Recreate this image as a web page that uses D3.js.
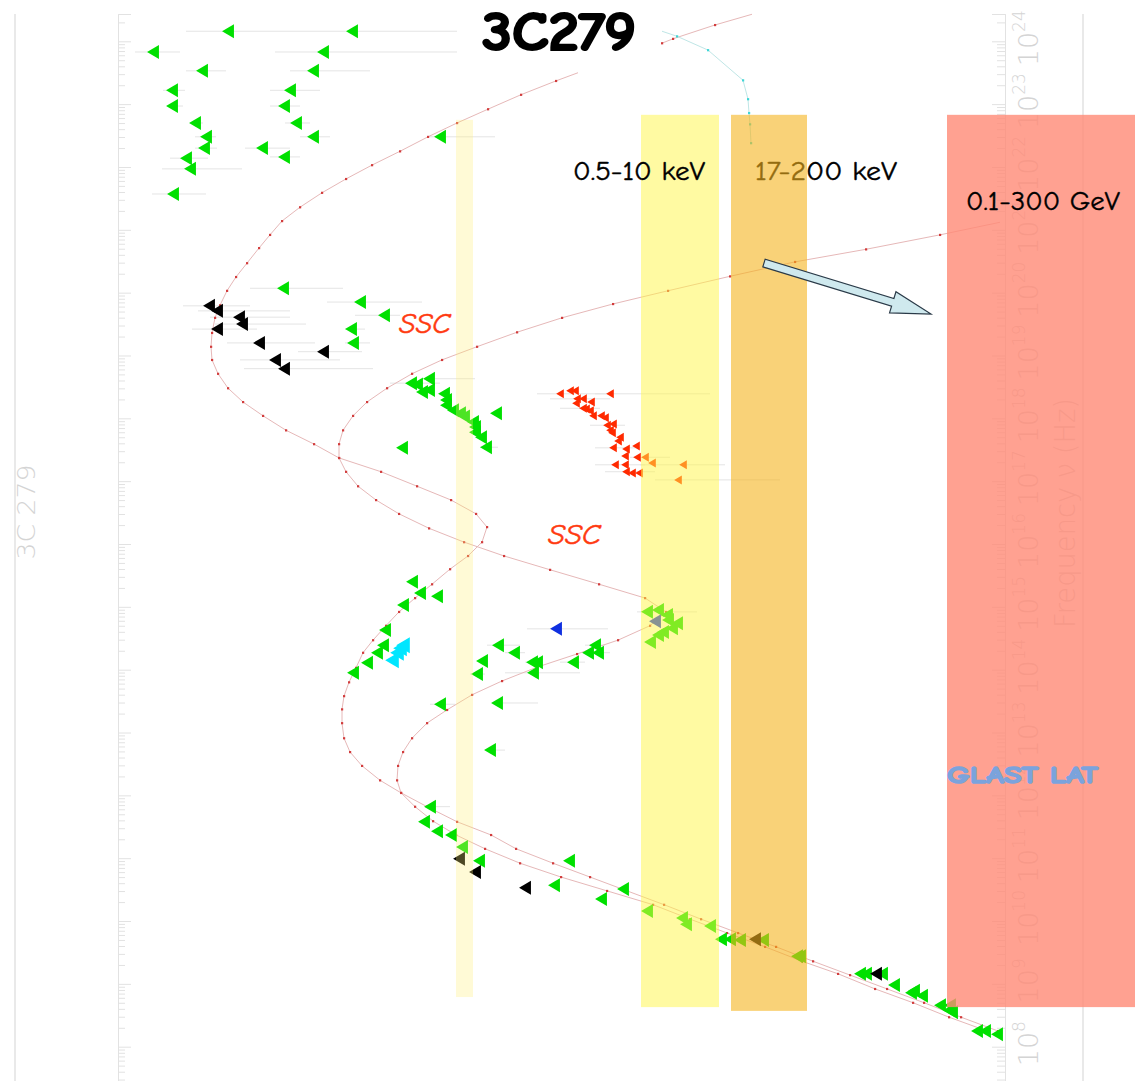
<!DOCTYPE html>
<html><head><meta charset="utf-8">
<script src="https://cdn.jsdelivr.net/npm/d3@7"></script>
<style>html,body{margin:0;padding:0;background:#fff;}svg{display:block;}</style>
</head><body>
<script>
// ---------------- DATA (log10 nu [Hz], log10 nuFnu) ----------------
const decadeExps = d3.range(8, 25);           // frequency tick labels 10^8 .. 10^24

// green markers: [logNu, logF, errLeft, errRight]
const greenPts = [
 [24.16,-9.28,-8.86,-10.00],[24.16,-10.52,-10.00,-11.57],[23.83,-8.53,-8.35,-8.80],[23.83,-10.23,-9.75,-11.57],
 [23.53,-9.02,-8.86,-9.26],[23.53,-10.13,-9.90,-10.70],[23.22,-8.72,-8.63,-8.85],[23.22,-9.90,-9.70,-10.20],
 [22.97,-8.72,-8.67,-8.83],[22.97,-9.84,-9.70,-10.00],[22.70,-8.95,-8.90,-9.03],[22.70,-9.96,-9.85,-10.10],
 [22.48,-9.06,-8.95,-9.16],[22.48,-10.13,-10.00,-10.30],[22.30,-9.04,-8.95,-9.17],[22.30,-9.62,-9.45,-9.90],
 [22.14,-8.86,-8.70,-9.08],[22.16,-9.84,-9.70,-10.00],[21.97,-8.90,-8.62,-9.42],[21.57,-8.73,-8.52,-9.06],
 [22.48,-11.40,-11.30,-11.95],
 [20.07,-9.83,-9.50,-10.43],[19.85,-10.60,-10.27,-11.22],[19.64,-10.84,-10.55,-11.00],[19.42,-10.51,-10.45,-10.65],[19.20,-10.53,-10.45,-10.70],
 [18.56,-11.11,-10.90,-11.40],[18.54,-11.17],[18.63,-11.29,-11.30,-11.75],[18.42,-11.22],[18.45,-11.29],[18.39,-11.44],
 [18.29,-11.46],[18.21,-11.46],[18.13,-11.53],[18.08,-11.60],[18.03,-11.64],[17.94,-11.73],[17.86,-11.75],[17.78,-11.75],
 [17.70,-11.81],[17.54,-11.86,-11.80,-11.98],[18.08,-11.96],[17.53,-11.02],
 [14.92,-13.47,-13.37,-13.97],[14.95,-13.58],[14.87,-13.67],[14.74,-13.77],[14.66,-13.72],[14.60,-13.63],[14.55,-13.58],[14.44,-13.50],[14.79,-13.68],
 [15.40,-11.12],[15.22,-11.20],[15.17,-11.37],[15.03,-11.03],[14.63,-10.85],[14.39,-10.83],[14.27,-10.77],[14.11,-10.67],[13.95,-10.53],
 [14.39,-11.98,-11.87,-12.20],[14.27,-12.14,-12.05,-12.25],[14.14,-11.82],[13.93,-11.77,-11.70,-11.85],[14.12,-12.32,-12.25,-12.40],
 [14.12,-12.37],[13.95,-12.33,-12.05,-12.80],[14.12,-12.73,-12.60,-12.85],[14.27,-12.88],[14.39,-12.95,-12.85,-13.05],
 [14.27,-12.98,-12.90,-13.10],[13.45,-11.40,-11.30,-11.55],[13.47,-11.97,-11.97,-12.38],[12.72,-11.90,-11.85,-12.05],
 [11.82,-11.30,-11.25,-11.50],[11.58,-11.24],[11.43,-11.37],[11.37,-11.51],[11.18,-11.62],[10.96,-11.79],[10.96,-12.69],
 [10.57,-12.54],[10.51,-13.23],[10.35,-13.01],[10.16,-13.47],[10.05,-13.82],[9.95,-13.86],[9.92,-14.10],[9.71,-14.21],
 [9.71,-14.30],[9.70,-14.40],[9.70,-14.63],[9.44,-14.97],[9.44,-15.00],[9.16,-15.60],[9.16,-15.66],[9.16,-15.82],
 [8.98,-15.94],[8.86,-16.11],[8.89,-16.14],[8.81,-16.22],[8.66,-16.40],[8.58,-16.49],[8.66,-16.50],[8.55,-16.52],
 [8.25,-16.77],[8.25,-16.85],[8.20,-16.97]
];
const blackPts = [
 [19.79,-9.09,-8.83,-9.50],[19.71,-9.17,-8.98,-9.90],[19.61,-9.39,-9.10,-9.90],[19.50,-9.42,-9.15,-10.06],
 [19.42,-9.17,-8.92,-9.57],[19.20,-9.59,-9.27,-10.15],[19.06,-10.23,-9.98,-10.62],[18.93,-9.75,-9.40,-10.40],
 [18.79,-9.84,-9.44,-10.73],[10.99,-11.59],[10.78,-11.75],[10.53,-12.25],[9.71,-14.55],[9.16,-15.76]
];
const redPts = [
 [18.39,-12.60,-12.37,-13.13],[18.44,-12.70],[18.44,-12.75],[18.39,-13.10,-12.95,-14.10],[18.31,-12.77,-12.50,-13.10],
 [18.31,-12.83],[18.24,-12.76],[18.26,-12.91],[18.16,-12.83,-12.60,-13.00],[18.15,-12.86],[18.12,-12.90],[18.04,-12.93],
 [18.04,-13.01],[18.01,-13.05],[17.89,-13.07,-12.90,-13.25],[17.91,-13.13],[17.81,-13.10],[17.77,-13.12],[17.70,-13.20],
 [17.64,-13.18],[17.53,-13.13,-12.95,-13.40],[17.51,-13.26],[17.56,-13.36],[17.40,-13.25],[17.38,-13.37],
 [17.38,-13.45,-13.30,-13.70],[17.29,-13.52],[17.26,-13.83,-13.40,-14.25],[17.26,-13.15,-12.95,-13.45],[17.26,-13.25],
 [17.15,-13.26,-13.05,-13.55],[17.13,-13.32],[17.13,-13.39],[17.02,-13.78,-13.55,-14.80]
];
const cyanPts = [[14.39,-11.03],[14.34,-11.00],[14.27,-10.97],[14.15,-10.92]];
const bluePts = [[14.65,-12.56,-12.27,-13.08],[14.77,-13.55]];

// model curves [logNu, logF]
const modelA = [[23.50,-12.78],[23.37,-12.56],[23.15,-12.21],[22.92,-11.88],[22.70,-11.57],[22.48,-11.28],[22.25,-11.00],
 [22.03,-10.72],[21.81,-10.46],[21.59,-10.22],[21.36,-10.00],[21.14,-9.82],[20.92,-9.70],[20.71,-9.59],[20.47,-9.47],
 [20.25,-9.36],[20.03,-9.27],[19.80,-9.20],[19.60,-9.15],[19.36,-9.12],[19.14,-9.11],[18.93,-9.12],[18.71,-9.18],
 [18.48,-9.28],[18.26,-9.43],[18.04,-9.63],[17.81,-9.86],[17.59,-10.14],[17.37,-10.39],[17.15,-10.81],[16.92,-11.17],
 [16.70,-11.51],[16.48,-11.76],[16.27,-11.87],[16.03,-11.82],[15.81,-11.68],[15.60,-11.50],[15.36,-11.32],[15.14,-11.15],
 [14.92,-10.99],[14.70,-10.86],[14.47,-10.73],[14.27,-10.63],[14.03,-10.56],[13.80,-10.49],[13.58,-10.44],[13.37,-10.42],
 [13.15,-10.42],[12.91,-10.44],[12.69,-10.50],[12.47,-10.62],[12.24,-10.80],[12.04,-11.01],[11.82,-11.27],[11.58,-11.57],
 [11.37,-11.91],[11.15,-12.16],[10.92,-12.53],[10.70,-12.90],[10.48,-13.27],[10.26,-13.64],[10.03,-14.01],[9.81,-14.38],
 [9.59,-14.76],[9.36,-15.13],[9.14,-15.50],[8.92,-15.87],[8.70,-16.24],[8.47,-16.61],[8.25,-16.98]];
const modelB = [[21.12,-17.00],[20.92,-16.40],[20.69,-15.66],[20.49,-14.95],[20.26,-14.30],[20.03,-13.68],[19.82,-13.13],
 [19.60,-12.62],[19.37,-12.17],[19.14,-11.77],[18.93,-11.42],[18.71,-11.12],[18.48,-10.87],[18.26,-10.67],[18.04,-10.53],
 [17.81,-10.43],[17.59,-10.39],[17.37,-10.39],[17.15,-10.46],[16.92,-10.58],[16.70,-10.76],[16.48,-10.99],[16.25,-11.29],
 [16.03,-11.64],[15.81,-12.04],[15.59,-12.50],[15.36,-12.99],[15.14,-13.45],[14.92,-13.66],[14.70,-13.50],[14.47,-13.18],
 [14.25,-12.77],[14.04,-12.37],[13.82,-12.02],[13.60,-11.72],[13.36,-11.47],[13.15,-11.27],[12.91,-11.12],[12.69,-11.03],
 [12.47,-10.98],[12.24,-10.97],[12.04,-11.01],[11.82,-11.15],[11.59,-11.33],[11.37,-11.56],[11.15,-11.85],[10.92,-12.20],
 [10.70,-12.61],[10.48,-13.07],[10.26,-13.53],[10.03,-13.90],[9.81,-14.27],[9.59,-14.65],[9.36,-15.02],[9.16,-15.38],
 [8.92,-15.75],[8.70,-16.13],[8.47,-16.49],[8.25,-16.87]];
const modelC = [[24.43,-14.52],[24.26,-14.15],[24.04,-13.73],[23.97,-13.62]];
const modelCyan = [[24.16,-13.62],[24.08,-13.77],[23.86,-14.08],[23.38,-14.43],[23.08,-14.48],[22.86,-14.49],[22.68,-14.50],[22.38,-14.51]];

// instrument bands: [name, logF left, logF right, logNu low, logNu high]
const bandNames = ["pale", "0.5-10 keV", "17-200 keV", "0.1-300 GeV"];
const bandFlux  = [[-11.56,-11.73],[-13.41,-14.19],[-14.31,-15.07],[-16.47,-18.35]];
const bandNu    = [[8.79,22.75],[8.63,22.83],[8.57,22.83],[8.63,22.83]];
const bandFill  = ["rgba(255,240,120,0.30)","rgba(255,245,70,0.50)","rgba(245,180,30,0.60)","rgba(255,137,117,0.80)"];

// ---------------- SCALES ----------------
const W = 1135, H = 1081;
const svg = d3.select("body").append("svg").attr("width", W).attr("height", H);
const y = d3.scaleLog().domain([1e8, 1e24]).range([1046.7, 41.3]);
y.domain([y.invert(1081), y.invert(14)]).range([1081, 14]);
const x = d3.scaleLinear().domain([-7, -17]).range([0, 1000]);
const Y = v => y(Math.pow(10, v));

const axisCol = "#e2e2e2";
// ---------------- FRAME / AXES ----------------
[15, 1083].forEach(px => svg.append("line").attr("x1", px).attr("x2", px).attr("y1", 14).attr("y2", H)
  .attr("stroke", axisCol).attr("stroke-width", 1.5));

const majors = [], minors = [];
for (let k = 7; k <= 24; k++) for (let m = 1; m <= 9; m++) {
  const v = m * Math.pow(10, k), py = y(v);
  if (py >= 14 && py <= H) (m === 1 ? majors : minors).push(v);
}
function drawAxis(gen, px, vals, size) {
  const g = svg.append("g").attr("transform", `translate(${px},0)`)
    .call(gen(y).tickValues(vals).tickSize(size).tickFormat(""));
  g.selectAll("path,line").attr("stroke", axisCol);
  return g;
}
drawAxis(d3.axisRight, 118, majors, 13);
drawAxis(d3.axisRight, 118, minors, 7);
drawAxis(d3.axisLeft, 1005, majors, 13);
drawAxis(d3.axisLeft, 1005, minors, 8);

const lblFont = "'DejaVu Sans', sans-serif";
const lblCol = "#d4d4d4";
decadeExps.forEach(k => {
  const t = svg.append("text").attr("transform", `translate(1038,${y(Math.pow(10, k)) - 3}) rotate(-90)`)
    .attr("text-anchor", "middle").attr("font-family", lblFont).attr("font-weight", 200)
    .attr("font-size", 27).attr("fill", lblCol);
  t.append("tspan").text("10");
  t.append("tspan").attr("dy", -13).attr("font-size", 17).text(k);
});
svg.append("text").attr("transform", "translate(1075,513) rotate(-90)").attr("text-anchor", "middle")
  .attr("font-family", lblFont).attr("font-weight", 200).attr("font-size", 28).attr("fill", lblCol)
  .attr("textLength", 230).attr("lengthAdjust", "spacingAndGlyphs")
  .text("Frequency \u03bd (Hz)");
svg.append("text").attr("transform", "translate(35,512) rotate(-90)").attr("text-anchor", "middle")
  .attr("font-family", lblFont).attr("font-weight", 200).attr("font-size", 25).attr("fill", lblCol)
  .attr("textLength", 95).attr("lengthAdjust", "spacingAndGlyphs")
  .text("3C 279");

// ---------------- ERROR BARS ----------------
const allPts = [...greenPts, ...blackPts, ...redPts, ...cyanPts, ...bluePts].filter(d => d.length > 2);
svg.append("g").selectAll("line").data(allPts).join("line")
  .attr("x1", d => x(d[2])).attr("x2", d => x(d[3])).attr("y1", d => Y(d[0])).attr("y2", d => Y(d[0]))
  .attr("stroke", "#e4e4e4").attr("stroke-width", 1);

// ---------------- MODEL CURVES ----------------
const line = d3.line().x(d => x(d[1])).y(d => Y(d[0]));
function drawModel(data, lc, dc) {
  svg.append("path").datum(data).attr("d", line).attr("fill", "none").attr("stroke", lc).attr("stroke-width", 1);
  svg.append("g").selectAll("rect").data(data.slice(1)).join("rect")
    .attr("x", d => x(d[1]) - 1).attr("y", d => Y(d[0]) - 1).attr("width", 2.2).attr("height", 2.2).attr("fill", dc);
}
drawModel(modelA, "#e6b8b8", "#d23c3c");
drawModel(modelB, "#e6b8b8", "#d23c3c");
drawModel(modelC, "#e6b8b8", "#d23c3c");
drawModel(modelCyan, "#bfe6e6", "#3fd6d6");

// ---------------- MARKERS ----------------
function tri(data, col, s) {
  svg.append("g").selectAll("path").data(data).join("path")
    .attr("d", d => {
      const cx = x(d[1]), cy = Y(d[0]);
      return `M${cx - s * 0.85},${cy}L${cx + s * 0.85},${cy - s}L${cx + s * 0.85},${cy + s}Z`;
    }).attr("fill", col);
}
tri(greenPts, "#00e000", 7);
tri(blackPts, "#000000", 7);
tri(redPts, "#ff2a00", 4.5);
tri(cyanPts, "#00e6ff", 8);
tri(bluePts, "#1030e0", 7);

// ---------------- BANDS + LABELS ----------------
function band(i) {
  svg.append("rect").attr("x", x(bandFlux[i][0])).attr("width", x(bandFlux[i][1]) - x(bandFlux[i][0]))
    .attr("y", Y(bandNu[i][1])).attr("height", Y(bandNu[i][0]) - Y(bandNu[i][1])).attr("fill", bandFill[i]);
}
const comic = "'Comic Sans MS','Comic Neue','DejaVu Sans',sans-serif";
band(0); band(1);
svg.append("text").attr("x", 573).attr("y", 180).attr("font-family", comic).attr("font-size", 26)
  .attr("stroke", "#000").attr("stroke-width", 0.4)
  .attr("textLength", 132).attr("lengthAdjust", "spacingAndGlyphs").text(bandNames[1]);
svg.append("text").attr("x", 755).attr("y", 180).attr("font-family", comic).attr("font-size", 26)
  .attr("stroke", "#000").attr("stroke-width", 0.4)
  .attr("textLength", 142).attr("lengthAdjust", "spacingAndGlyphs").text(bandNames[2]);
band(2); band(3);
svg.append("text").attr("x", 966).attr("y", 210).attr("font-family", comic).attr("font-size", 27)
  .attr("stroke", "#000").attr("stroke-width", 0.4)
  .attr("textLength", 154).attr("lengthAdjust", "spacingAndGlyphs").text(bandNames[3]);
svg.append("text").attr("x", 947).attr("y", 783).attr("font-family", comic).attr("font-size", 25).attr("font-weight", "bold")
  .attr("fill", "#7ba3dc").attr("stroke", "#7ba3dc").attr("stroke-width", 1.6)
  .attr("textLength", 151).attr("lengthAdjust", "spacingAndGlyphs").text("GLAST LAT");
[[399, 333, 52], [548, 544, 53]].forEach(p => svg.append("text").attr("x", p[0]).attr("y", p[1])
  .attr("font-family", comic).attr("font-style", "italic").attr("font-size", 29).attr("fill", "#ff3a10")
  .attr("stroke", "#ff3a10").attr("stroke-width", 0.5)
  .attr("textLength", p[2]).attr("lengthAdjust", "spacingAndGlyphs").text("SSC"));
svg.append("text").attr("x", 482).attr("y", 50).attr("font-family", comic).attr("font-weight", "bold")
  .attr("stroke", "#000").attr("stroke-width", 2.2)
  .attr("font-size", 55).attr("textLength", 154).attr("lengthAdjust", "spacingAndGlyphs").text("3C279");

// arrow
(function () {
  const x0 = 764, y0 = 263, x1 = 931, y1 = 314;
  const L = Math.hypot(x1 - x0, y1 - y0), ux = (x1 - x0) / L, uy = (y1 - y0) / L, nx = -uy, ny = ux;
  const hw = 4, hl = 40, hh = 11, bx = x1 - ux * hl, by = y1 - uy * hl;
  const pts = [[x0 + nx * hw, y0 + ny * hw], [bx + nx * hw, by + ny * hw], [bx + nx * hh, by + ny * hh], [x1, y1],
    [bx - nx * hh, by - ny * hh], [bx - nx * hw, by - ny * hw], [x0 - nx * hw, y0 - ny * hw]];
  svg.append("polygon").attr("points", pts.map(p => p.join(",")).join(" "))
    .attr("fill", "#cfe9ee").attr("stroke", "#2a3a48").attr("stroke-width", 1.2);
})();
</script>
</body></html>
